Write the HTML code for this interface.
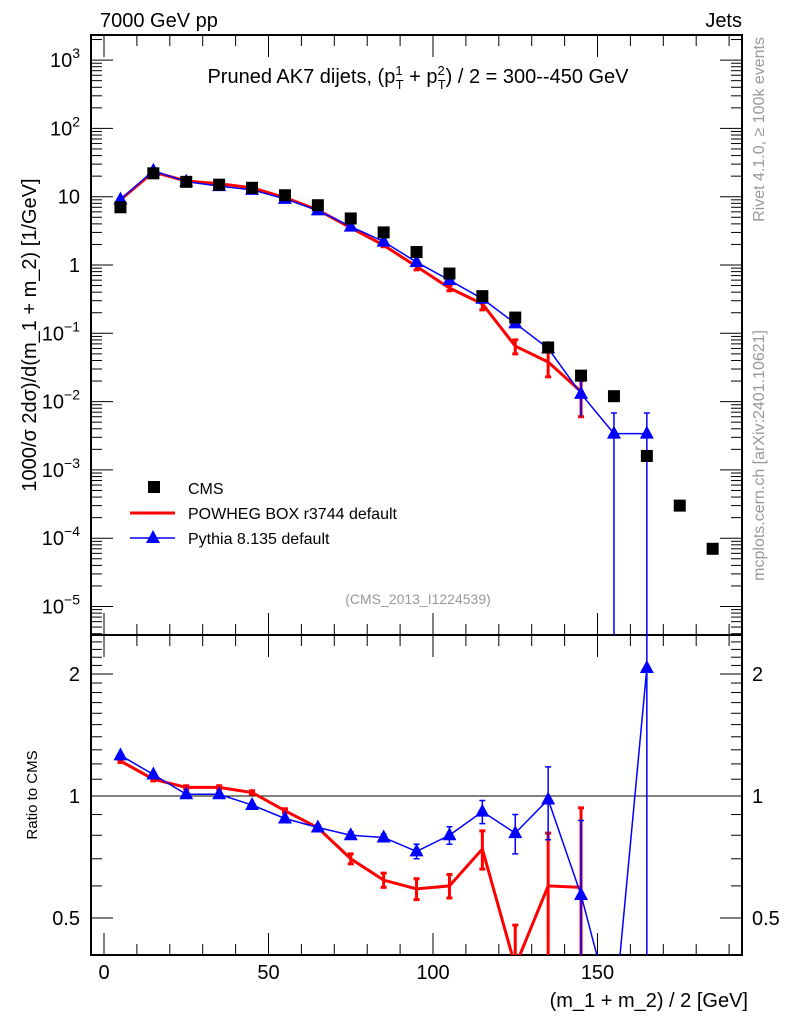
<!DOCTYPE html>
<html><head><meta charset="utf-8"><style>
html,body{margin:0;background:#fff;width:786px;height:1024px;overflow:hidden;position:relative;}
svg{display:block;font-family:"Liberation Sans",sans-serif;}
</style></head><body>
<svg id="c" width="786" height="1024" viewBox="0 0 786 1024" style="position:absolute;left:0;top:0"></svg>
<script>
const bins=[5,15,25,35,45,55,65,75,85,95,105,115,125,135,145,155,165,175,185];
const cms=[7,22,16.5,15,13.5,10.5,7.5,4.8,3.0,1.55,0.75,0.35,0.17,0.062,0.024,0.012,0.0016,0.0003,0.00007];
const powheg=[9,23,17,15.5,13.5,9.7,6.4,3.5,1.95,0.95,0.46,0.27,0.065,0.038,0.014];
const powhegErr=[0,0,0,0,0,0,0,0.25,0.1,0.1,0.04,0.05,0.015,0.015,0.008];
const pythia=[9.1,24,16.6,14.3,12.6,9.3,6.3,3.65,2.2,1.1,0.6,0.32,0.14,0.06,0.013,0.0034,0.0034];
const pythiaErr=[0,0,0,0,0,0,0,0,0,0,0,0,0,0,0.007,0.0034,0.0034];
const powhegRatio=[1.22,1.10,1.05,1.05,1.02,0.92,0.835,0.70,0.62,0.59,0.60,0.74,0.38,0.60,0.595];
const powhegRatioErr=[0.01,0.01,0.01,0.01,0.01,0.01,0.01,0.02,0.025,0.035,0.04,0.08,0.1,0.21,0.34];
const pythiaRatio=[1.26,1.13,1.01,1.01,0.95,0.88,0.836,0.80,0.79,0.73,0.80,0.915,0.81,0.98,0.57,0.28,2.07];
const pythiaRatioErr=[0.005,0.005,0.005,0.005,0.005,0.005,0.005,0.015,0.015,0.03,0.04,0.06,0.09,0.2,0.3,0,1.7];
const xTicks=[0,50,100,150];
const yTicks=[-5,-4,-3,-2,-1,0,1,2,3];
const rTicks=[0.5,1,2];

const NS="http://www.w3.org/2000/svg";
const svg=document.getElementById('c');
const L=91,R=742,T=35,M=635,B=955;
const X=v=>104+v*3.29;
const Y=v=>265-Math.log10(v)*68.3;
const YR=v=>796-Math.log2(v)*122;
function el(tag,attrs,txt){const e=document.createElementNS(NS,tag);for(const k in attrs)e.setAttribute(k,attrs[k]);if(txt!==undefined)e.textContent=txt;svg.appendChild(e);return e;}
const clip=el('clipPath',{id:'cm'});const cmr=document.createElementNS(NS,'rect');clip.appendChild(cmr);
cmr.setAttribute('x',L);cmr.setAttribute('y',T);cmr.setAttribute('width',R-L);cmr.setAttribute('height',M-T);
const clip2=el('clipPath',{id:'cr'});const cr=document.createElementNS(NS,'rect');clip2.appendChild(cr);
cr.setAttribute('x',L);cr.setAttribute('y',M);cr.setAttribute('width',R-L);cr.setAttribute('height',B-M);

let f=el('rect',{x:L,y:T,width:R-L,height:M-T,fill:'none',stroke:'#000','stroke-width':2});

f=el('rect',{x:L,y:M,width:R-L,height:B-M,fill:'none',stroke:'#000','stroke-width':2});


for(let v=0;v<=190;v+=10){const x=X(v);const maj=v%50===0;const len=maj?22:11;
 el('line',{x1:x,y1:T,x2:x,y2:T+len,stroke:'#000'});
 el('line',{x1:x,y1:M,x2:x,y2:M-len,stroke:'#000'});
 el('line',{x1:x,y1:M,x2:x,y2:M+len,stroke:'#000'});
 el('line',{x1:x,y1:B,x2:x,y2:B-len,stroke:'#000'});}
xTicks.forEach(v=>{const t=el('text',{x:X(v),y:979,'font-size':20,'text-anchor':'middle'},String(v));
 });
for(let d=-6;d<=3;d++){for(let m=1;m<10;m++){const v=m*Math.pow(10,d);const y=Y(v);if(y<T||y>M)continue;const len=m===1?22:11;
 el('line',{x1:L,y1:y,x2:L+len,y2:y,stroke:'#000'});el('line',{x1:R,y1:y,x2:R-len,y2:y,stroke:'#000'});}}
yTicks.forEach(d=>{const y=Y(Math.pow(10,d));let t;
 if(d===0){t=el('text',{x:80,y:y+7,'font-size':20,'text-anchor':'end'},'1');}
 else if(d===1){t=el('text',{x:80,y:y+7,'font-size':20,'text-anchor':'end'},'10');}
 else{t=el('text',{x:80,y:y+7,'font-size':20,'text-anchor':'end'});
  const a=document.createElementNS(NS,'tspan');a.textContent='10';t.appendChild(a);
  const b=document.createElementNS(NS,'tspan');b.textContent=String(d).replace('-','\u2212');b.setAttribute('font-size',14);b.setAttribute('dy',-9);t.appendChild(b);}
 });
for(let k=4;k<=24;k++){const v=k/10;const y=YR(v);if(y<M||y>B)continue;const maj=(k===5||k===10||k===20);const len=maj?22:11;
 el('line',{x1:L,y1:y,x2:L+len,y2:y,stroke:'#000'});el('line',{x1:R,y1:y,x2:R-len,y2:y,stroke:'#000'});}
rTicks.forEach(v=>{let t=el('text',{x:80,y:YR(v)+7,'font-size':20,'text-anchor':'end'},String(v));
 
 t=el('text',{x:752,y:YR(v)+7,'font-size':20},String(v));
 });
el('line',{x1:L,y1:YR(1),x2:R,y2:YR(1),stroke:'#000'});

const gm=el('g',{'clip-path':'url(#cm)'});
function add(g,tag,attrs){const e=document.createElementNS(NS,tag);for(const k in attrs)e.setAttribute(k,attrs[k]);g.appendChild(e);return e;}
let p=add(gm,'polyline',{points:powheg.map((v,i)=>X(bins[i])+','+Y(v)).join(' '),fill:'none',stroke:'#f00','stroke-width':3});

powheg.forEach((v,i)=>{if(!powhegErr[i])return;const x=X(bins[i]);const lo=Math.max(v-powhegErr[i],1e-9);
 const e=add(gm,'path',{d:`M${x},${Y(v+powhegErr[i])}V${Y(lo)}M${x-3},${Y(v+powhegErr[i])}h6M${x-3},${Y(lo)}h6`,stroke:'#f00','stroke-width':3,fill:'none'});
 });
p=add(gm,'polyline',{points:pythia.map((v,i)=>X(bins[i])+','+Y(v)).join(' '),fill:'none',stroke:'#00f','stroke-width':1.5});

pythia.forEach((v,i)=>{const x=X(bins[i]),y=Y(v);
 if(pythiaErr[i]){const lo=v-pythiaErr[i]>0?Y(v-pythiaErr[i]):M+5;
  const e=add(gm,'path',{d:`M${x},${Y(v+pythiaErr[i])}V${lo}M${x-3},${Y(v+pythiaErr[i])}h6`,stroke:'#00f','stroke-width':1.5,fill:'none'});
  }
 const m=add(gm,'path',{d:`M${x},${y-8}L${x+7},${y+5}L${x-7},${y+5}Z`,fill:'#00f'});
 });
cms.forEach((v,i)=>{const x=X(bins[i]),y=Y(v);
 const m=add(gm,'rect',{x:x-6,y:y-6,width:12,height:12,fill:'#000'});
 });

const gr=el('g',{'clip-path':'url(#cr)'});
p=add(gr,'polyline',{points:powhegRatio.map((v,i)=>X(bins[i])+','+YR(v)).join(' '),fill:'none',stroke:'#f00','stroke-width':3});

powhegRatio.forEach((v,i)=>{const x=X(bins[i]);const hi=YR(v+powhegRatioErr[i]);const lo=YR(Math.max(v-powhegRatioErr[i],0.05));
 const e=add(gr,'path',{d:`M${x},${hi}V${lo}M${x-3},${hi}h6M${x-3},${lo}h6`,stroke:'#f00','stroke-width':3,fill:'none'});
 });
p=add(gr,'polyline',{points:pythiaRatio.map((v,i)=>X(bins[i])+','+YR(v)).join(' '),fill:'none',stroke:'#00f','stroke-width':1.5});

pythiaRatio.forEach((v,i)=>{const x=X(bins[i]),y=YR(v);const hi=YR(v+pythiaRatioErr[i]);const lo=YR(Math.max(v-pythiaRatioErr[i],0.05));
 const e=add(gr,'path',{d:`M${x},${hi}V${lo}M${x-3},${hi}h6M${x-3},${lo}h6`,stroke:'#00f','stroke-width':1.5,fill:'none'});
 
 const m=add(gr,'path',{d:`M${x},${y-8}L${x+7},${y+5}L${x-7},${y+5}Z`,fill:'#00f'});
 });
</script>
<svg width="786" height="1024" style="position:absolute;left:0;top:0">
<text x="100" y="27" font-size="20">7000 GeV pp</text>
<text x="742" y="27" font-size="20" text-anchor="end">Jets</text>
<text x="418" y="83" font-size="20" text-anchor="middle">Pruned AK7 dijets, (p<tspan font-size="13" dy="-8">1</tspan><tspan font-size="13" dx="-7" dy="14">T</tspan><tspan dy="-6"> + p</tspan><tspan font-size="13" dy="-8">2</tspan><tspan font-size="13" dx="-7" dy="14">T</tspan><tspan dy="-6">) / 2 = 300--450 GeV</tspan></text>
<text transform="translate(36,335) rotate(-90)" font-size="20" text-anchor="middle">1000/σ   2dσ)/d(m_1 + m_2) [1/GeV]</text>
<text transform="translate(37,795) rotate(-90)" font-size="15" text-anchor="middle">Ratio to CMS</text>
<text x="748" y="1007" font-size="20" text-anchor="end">(m_1 + m_2) / 2 [GeV]</text>
<text transform="translate(764,37) rotate(-90)" font-size="16" fill="#999" text-anchor="end">Rivet 4.1.0, ≥ 100k events</text>
<text transform="translate(764,330) rotate(-90)" font-size="16" fill="#999" text-anchor="end">mcplots.cern.ch [arXiv:2401.10621]</text>
<text x="418" y="604" font-size="14" fill="#999" text-anchor="middle">(CMS_2013_I1224539)</text>
<g>
<rect x="148" y="481" width="12" height="12" fill="#000"/>
<text x="188" y="494" font-size="16">CMS</text>
<line x1="130" y1="513" x2="175" y2="513" stroke="#f00" stroke-width="3"/>
<text x="188" y="519" font-size="16">POWHEG BOX r3744 default</text>
<line x1="130" y1="538" x2="175" y2="538" stroke="#00f" stroke-width="1.5"/>
<path d="M153,530L160,543L146,543Z" fill="#00f"/>
<text x="188" y="544" font-size="16">Pythia 8.135 default</text>
</g>
</svg>
</body></html>
